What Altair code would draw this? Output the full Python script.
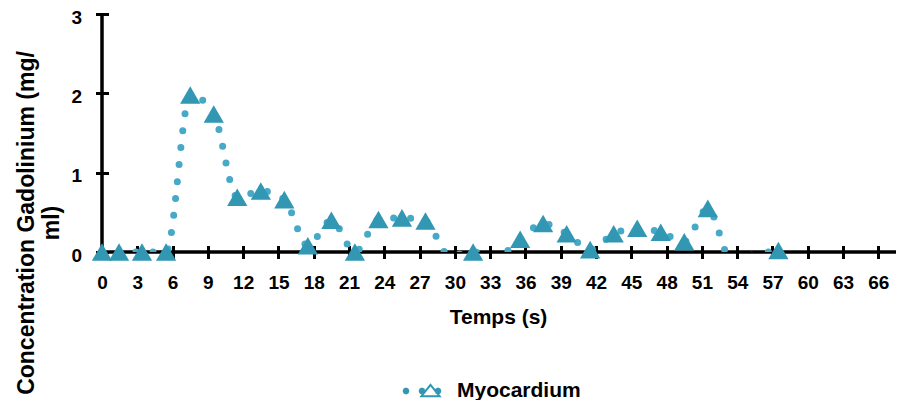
import math
import altair as alt
import pandas as pd

# ---- data ----
times = [0, 1.45, 3.4, 5.45, 7.5, 9.5, 11.5, 13.5, 15.5, 17.5, 19.5, 21.5, 23.5, 25.5,
         27.5, 29.5, 31.55, 33.55, 35.55, 37.5, 39.5, 41.5, 43.5, 45.5, 47.5, 49.5,
         51.5, 53.5, 55.5, 57.5]
concentration = [0, 0, 0, 0, 1.98, 1.74, 0.69, 0.77, 0.66, 0.08, 0.40, 0, 0.41, 0.43,
                 0.39, -0.04, 0, -0.06, 0.16, 0.36, 0.23, 0.03, 0.23, 0.30, 0.25, 0.13,
                 0.55, -0.10, -0.03, 0.02]
series_name = ["Myocardium"]
x_ticks = list(range(0, 67, 3))
y_ticks = [0, 1, 2, 3]

FONT = "Liberation Sans"
DOT = "#45a9c7"
TRI = "#3197b3"

df = pd.DataFrame({"t": times, "c": concentration, "s": series_name[0]})


# legend glyph: dot, dot + hollow triangle + dot (unit coords, scaled by symbol size)
def octagon(cx, cy, r):
    pts = []
    for k in range(8):
        a = math.pi / 4 * k
        pts.append(f"{cx + r * math.cos(a):.3f},{cy + r * math.sin(a):.3f}")
    return "M" + "L".join(pts) + "Z"


legend_path = (
    octagon(-0.825, 0, 0.17) + octagon(-0.025, 0, 0.17) + octagon(0.775, 0, 0.17)
    + "M0.4,-0.385L0.96,0.315L-0.16,0.315Z"
    + "M0.4,-0.225L0.048,0.215L0.752,0.215Z"
)

xs = alt.Scale(domain=[0, 67.5], nice=False, zero=False)
ys = alt.Scale(domain=[0, 3], nice=False)

x_axis = alt.Axis(
    values=x_ticks, format="d", offset=-6.5, domain=False, grid=False, tickSize=13,
    tickWidth=3, tickColor="black", labelFont=FONT, labelFontSize=19,
    labelFontWeight="bold", labelColor="black", labelPadding=15, labelFlush=False,
    labelOverlap=False, labelBound=False,
    title="Temps (s)", titleFont=FONT, titleFontSize=21, titleFontWeight="bold",
    titleColor="black", titleX=396, titleY=77.5, titleAlign="center",
    titleBaseline="alphabetic", titleAnchor="start",
)
y_axis = alt.Axis(
    values=y_ticks, format="d", offset=-6.5, domain=False, grid=False, tickSize=13,
    tickWidth=3, tickColor="black", labelFont=FONT, labelFontSize=19,
    labelFontWeight="bold", labelColor="black", labelPadding=14, labelOffset=3,
    labelFlush=False, labelOverlap=False, labelBound=False,
    title=["Concentration Gadolinium (mg/", "ml)"], titleFont=FONT, titleFontSize=23,
    titleFontWeight="bold", titleColor="black", titleAngle=270, titleX=-75,
    titleY=208.5, titleAlign="center", titleBaseline="alphabetic", titleLineHeight=25,
    titleAnchor="start",
)

X = alt.X("t:Q", scale=xs, axis=x_axis)
Y = alt.Y("c:Q", scale=ys, axis=y_axis)

line = alt.Chart(df).mark_line(
    interpolate="monotone", clip=True, strokeWidth=7,
    strokeDash=[0, 17], strokeCap="round", color=DOT,
).encode(x=X, y=Y)

xrule = alt.Chart(pd.DataFrame({"c": [0]})).mark_rule(
    color="black", strokeWidth=3.5).encode(y=Y)
yrule = alt.Chart(pd.DataFrame({"t": [0]})).mark_rule(
    color="black", strokeWidth=3.5).encode(x=X)

tri = alt.Chart(df).transform_filter("datum.c >= 0").mark_point(
    shape="triangle-up", filled=True, size=410, opacity=1, strokeWidth=0,
).encode(
    x=X,
    y=Y,
    color=alt.Color(
        "s:N",
        scale=alt.Scale(domain=series_name, range=[TRI]),
        legend=alt.Legend(
            title=None, orient="none", legendX=300.5, legendY=357, padding=0,
            symbolType=legend_path, symbolSize=1600, symbolStrokeWidth=0,
            symbolFillColor=DOT, labelFont=FONT, labelFontSize=21,
            labelFontWeight="bold", labelColor="black", labelOffset=14.5,
        ),
    ),
)

chart = alt.layer(xrule, yrule, line, tri).properties(
    width=794, height=238,
    autosize=alt.AutoSizeParams(type="none"),
    padding={"left": 94, "top": 6, "right": 2, "bottom": 148},
).configure_view(stroke=None)

chart.save("out.html", embed_options={"renderer": "svg", "actions": False})
